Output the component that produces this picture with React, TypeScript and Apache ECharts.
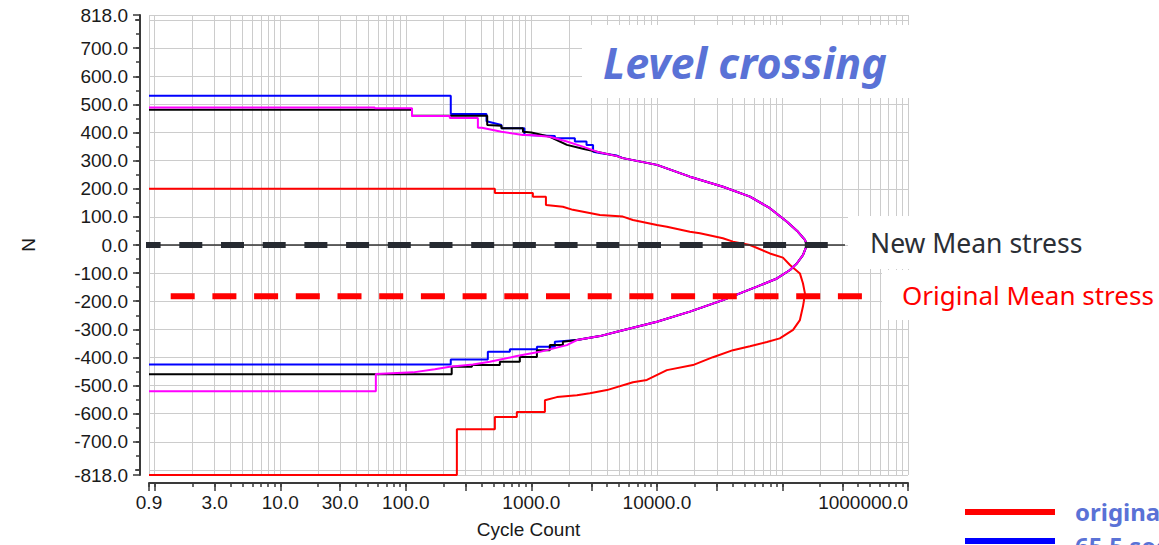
import React, { useEffect, useRef } from "react";
import * as echarts from "echarts";

// ---- axis ticks / labels ----
const xTickLabels = [0.9, 3, 10, 30, 100, 1000, 10000, 1000000];
const xMajorTicks = [0.9, 1, 3, 10, 30, 100, 300, 1000, 3000, 10000, 30000, 100000, 300000, 1000000];
const yTickLabels = [818, 700, 600, 500, 400, 300, 200, 100, 0, -100, -200, -300, -400, -500, -600, -700, -818];
const yExtraTicks = [800, -800];

// ---- series: cycle counts and stress levels (path vertices) ----
const redCycles = [0.9, 512, 512, 1028, 1028, 1306, 1306, 1782, 2141, 3516, 5357, 6442, 10000, 12010, 18300, 22020, 33550, 40350, 55100, 79400, 100900, 114800, 137700, 145600, 151000, 148000, 145600, 137700, 121500, 95200, 75200, 55100, 40350, 27950, 19350, 12010, 8318, 6442, 3996, 2924, 2305, 1597, 1282, 1282, 766, 766, 512, 512, 255, 255, 0.9];
const redLevels = [200, 200, 185, 185, 172, 172, 142, 136, 125, 107, 101, 89, 71, 65, 47, 42, 24, 12, 0, -30, -45, -71, -101, -136, -172, -200, -219, -267, -302, -332, -345, -360, -374, -399, -427, -445, -480, -488, -516, -527, -534, -541, -552, -594, -594, -612, -612, -655, -655, -818, -818];

const blueCycles = [0.9, 228, 228, 439, 439, 578, 578, 880, 880, 1540, 1540, 2220, 2220, 2750, 2750, 3100, 3100, 3600, 4797, 5357, 10000, 18300, 33550, 55100, 79400, 108600, 133000, 151000, 156700, 145600, 130600, 114800, 90400, 62600, 45800, 33550, 18300, 10000, 5357, 3516, 2305, 1538, 1538, 1107, 1107, 674, 674, 450, 450, 228, 228, 0.9];
const blueLevels = [531, 531, 466, 466, 440, 427, 415, 415, 391, 388, 380, 380, 368, 368, 356, 356, 332, 326, 318, 309, 285, 243, 207, 172, 131, 83, 47, 18, 0, -36, -65, -89, -119, -148, -172, -196, -237, -273, -303, -324, -338, -344, -362, -362, -371, -371, -380, -380, -407, -407, -425, -425];

const blackCycles = [0.9, 112, 112, 445, 445, 578, 578, 857, 857, 1000, 1403, 1918, 2570, 3326, 4797, 5357, 10000, 18300, 33550, 55100, 79400, 108600, 133000, 151000, 156700, 145600, 130600, 114800, 90400, 62600, 45800, 33550, 18300, 10000, 5357, 3516, 2305, 1782, 1782, 1403, 1403, 1107, 1107, 809, 809, 561, 561, 336, 336, 232, 232, 0.9];
const blackLevels = [481, 481, 460, 460, 427, 424, 415, 415, 403, 400, 385, 356, 342, 332, 316, 309, 285, 243, 207, 172, 131, 83, 47, 18, 0, -36, -65, -89, -119, -148, -172, -196, -237, -273, -303, -324, -338, -344, -356, -356, -374, -374, -398, -398, -415, -415, -427, -427, -433, -433, -460, -460];

const magentaCycles = [0.9, 56.6, 56.6, 112, 112, 224, 224, 375, 375, 403, 578, 857, 972, 1403, 1918, 2570, 3326, 4797, 5357, 10000, 18300, 33550, 55100, 79400, 108600, 133000, 151000, 156700, 145600, 130600, 114800, 90400, 62600, 45800, 33550, 18300, 10000, 5357, 3516, 2305, 1918, 1169, 766, 466, 342, 224, 170, 114, 57.7, 57.7, 0.9];
const magentaLevels = [489, 489, 486, 486, 459, 459, 452, 452, 417, 417, 403, 391, 391, 385, 368, 350, 332, 316, 309, 285, 243, 207, 172, 131, 83, 47, 18, 0, -36, -65, -89, -119, -148, -172, -196, -237, -273, -303, -324, -338, -356, -380, -395, -415, -425, -433, -442, -453, -459, -520, -520];

// ---- mean stress annotations ----
const newMeanStress = 0;
const newMeanSpan = [0.73, 315000];
const originalMeanStress = -182;
const originalMeanSpan = [1.34, 470000];

const lg = (v: number) => Math.log10(v);

export default function App() {
  const ref = useRef<HTMLDivElement>(null);

  useEffect(() => {
    document.body.style.margin = "0";
    if (!ref.current) return;
    const chart = echarts.init(ref.current, undefined, { renderer: "svg" });

    const xMinor: number[] = [0.9];
    for (let e = 0; e < 6; e++) for (let k = 1; k <= 9; k++) xMinor.push(k * Math.pow(10, e));
    xMinor.push(1000000);
    const yMinor: number[] = [];
    for (let v = -800; v <= 800; v += 50) yMinor.push(v);

    const axisColor = "#3a3a3a";
    const labelStyle = { fontSize: 19, fontFamily: "Liberation Sans", color: "#1a1a1a" };
    const xBase = { type: "value", min: lg(0.9), max: 6, position: "bottom", offset: 8, gridIndex: 0 };
    const yBase = { type: "value", min: -818, max: 818, position: "left", offset: 9, gridIndex: 0 };

    const fmtX = (v: number) => {
      const c = Math.pow(10, v);
      const r = c >= 1 ? Math.round(c) : Math.round(c * 10) / 10;
      return r.toFixed(1);
    };

    const curve = (name: string, cycles: number[], levels: number[], color: string) => ({
      name,
      type: "line",
      data: cycles.map((c, i) => [lg(c), levels[i]]),
      showSymbol: false,
      symbol: "none",
      lineStyle: { color, width: 2 },
      silent: true,
      z: 3,
    });

    const option: any = {
      animation: false,
      backgroundColor: "#ffffff",
      grid: { left: 149, top: 15, width: 759, height: 460, containLabel: false, outerBoundsMode: "none" },
      xAxis: [
        {
          ...xBase,
          axisLine: { show: true, onZero: false, lineStyle: { color: axisColor, width: 2 } },
          axisTick: { show: true, length: 4, customValues: xMinor.map(lg), lineStyle: { color: axisColor, width: 1.5 } },
          splitLine: { show: true, lineStyle: { color: "#cccccc", width: 1 } },
          axisLabel: { show: true, customValues: xTickLabels.map(lg), formatter: fmtX, margin: 10, alignMaxLabel: "right", ...labelStyle },
          name: "Cycle Count",
          nameLocation: "middle",
          nameGap: 37,
          nameTextStyle: { ...labelStyle },
        },
        {
          ...xBase,
          axisLine: { show: false, onZero: false },
          axisTick: { show: true, length: 8, customValues: xMajorTicks.map(lg), lineStyle: { color: axisColor, width: 1.5 } },
          splitLine: { show: false },
          axisLabel: { show: false },
        },
      ],
      yAxis: [
        {
          ...yBase,
          axisLine: { show: true, onZero: false, lineStyle: { color: axisColor, width: 2 } },
          axisTick: { show: true, length: 7, customValues: yTickLabels, lineStyle: { color: axisColor, width: 1.5 } },
          splitLine: { show: true, lineStyle: { color: "#cccccc", width: 1 } },
          axisLabel: { show: true, customValues: yTickLabels, formatter: (v: number) => Number(v).toFixed(1), margin: 12, ...labelStyle },
          name: "N",
          nameLocation: "middle",
          nameGap: 102,
          nameRotate: 90,
          nameTextStyle: { ...labelStyle },
        },
        {
          ...yBase,
          axisLine: { show: false, onZero: false },
          axisTick: { show: true, length: 4, customValues: yMinor, lineStyle: { color: axisColor, width: 1.5 } },
          splitLine: { show: false },
          axisLabel: { show: false },
        },
        {
          ...yBase,
          axisLine: { show: false, onZero: false },
          axisTick: { show: true, length: 5, customValues: yExtraTicks, lineStyle: { color: axisColor, width: 1.5 } },
          splitLine: { show: true, lineStyle: { color: "#cccccc", width: 1 } },
          axisLabel: { show: false },
        },
      ],
      series: [
        curve("original", redCycles, redLevels, "#ff0000"),
        curve("65.5 sec", blueCycles, blueLevels, "#0000ff"),
        curve("black", blackCycles, blackLevels, "#000000"),
        curve("magenta", magentaCycles, magentaLevels, "#ff00ff"),
        {
          name: "New Mean stress line",
          type: "line",
          clip: false,
          silent: true,
          showSymbol: false,
          symbol: "none",
          z: 5,
          data: newMeanSpan.map((c) => [lg(c), newMeanStress]),
          lineStyle: { color: "#333333", width: 1.5 },
        },
        {
          name: "New Mean stress",
          type: "line",
          clip: false,
          silent: true,
          showSymbol: false,
          symbol: "none",
          z: 6,
          data: newMeanSpan.map((c) => [lg(c), newMeanStress]),
          lineStyle: { color: "#262a31", width: 6, type: [23, 18.7] },
        },
        {
          name: "Original Mean stress",
          type: "line",
          clip: false,
          silent: true,
          showSymbol: false,
          symbol: "none",
          z: 6,
          data: originalMeanSpan.map((c) => [lg(c), originalMeanStress]),
          lineStyle: { color: "#ff0000", width: 6, type: [24, 17.7] },
        },
      ],
      graphic: {
        elements: [
          { type: "rect", z: 100, silent: true, shape: { x: 582, y: 25, width: 340, height: 73 }, style: { fill: "#ffffff" } },
          {
            type: "text", z: 101, x: 603, y: 62, silent: true,
            style: { text: "Level crossing", font: 'italic bold 43px "Noto Sans"', fill: "#5a72d6", verticalAlign: "middle", textVerticalAlign: "middle" },
          },
          { type: "rect", z: 100, silent: true, shape: { x: 848, y: 216, width: 320, height: 53 }, style: { fill: "#ffffff" } },
          {
            type: "text", z: 101, x: 870, y: 243, silent: true,
            style: { text: "New Mean stress", font: '26.5px "Noto Sans"', fill: "#2b2f36", verticalAlign: "middle", textVerticalAlign: "middle" },
          },
          { type: "rect", z: 100, silent: true, shape: { x: 882, y: 270, width: 290, height: 50 }, style: { fill: "#ffffff" } },
          {
            type: "text", z: 101, x: 902, y: 295, silent: true,
            style: { text: "Original Mean stress", font: '26px "Noto Sans"', fill: "#ff0000", verticalAlign: "middle", textVerticalAlign: "middle" },
          },
          { type: "rect", z: 101, silent: true, shape: { x: 965, y: 509, width: 90, height: 6 }, style: { fill: "#ff0000" } },
          { type: "rect", z: 101, silent: true, shape: { x: 965, y: 538, width: 90, height: 6 }, style: { fill: "#0000ff" } },
          {
            type: "text", z: 101, x: 1075, y: 511, silent: true,
            style: { text: "original", font: 'bold 24px "Noto Sans"', fill: "#5a72d6", verticalAlign: "middle", textVerticalAlign: "middle" },
          },
          {
            type: "text", z: 101, x: 1075, y: 545, silent: true,
            style: { text: "65.5 sec", font: 'bold 24px "Noto Sans"', fill: "#5a72d6", verticalAlign: "middle", textVerticalAlign: "middle" },
          },
        ],
      },
    };

    chart.setOption(option);
    return () => chart.dispose();
  }, []);

  return <div ref={ref} style={{ width: 1159, height: 545, position: "absolute", left: 0, top: 0 }} />;
}
